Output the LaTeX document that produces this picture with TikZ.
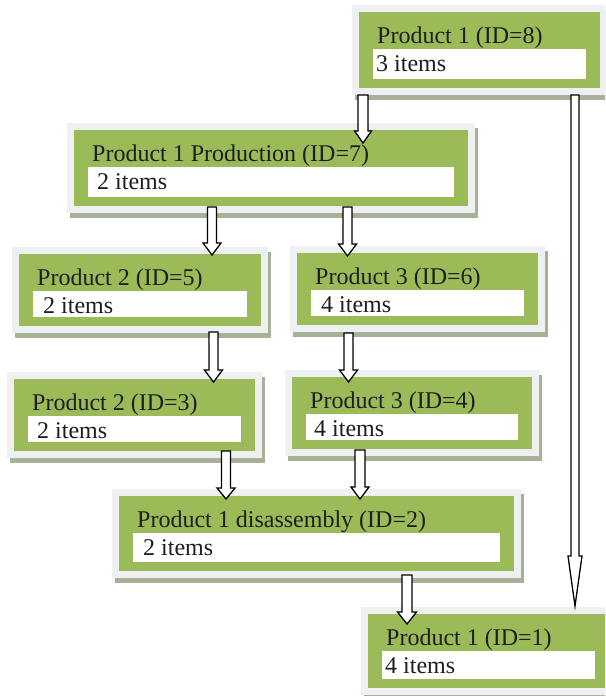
\documentclass[tikz,border=0pt]{standalone}
\usepackage{fontspec}
\setmainfont{Liberation Serif}
\usetikzlibrary{calc}
\definecolor{boxgreen}{HTML}{9BBB59}
\definecolor{framegray}{HTML}{EEF0F2}
\definecolor{shadowc}{HTML}{A7B198}
\definecolor{txt}{HTML}{1E1E1E}
\tikzset{
  framebox/.style={fill=framegray, inner sep=0pt, outer sep=0pt, anchor=north west},
  boxtext/.style={anchor=base west, inner sep=0pt, font=\fontsize{24}{28}\selectfont, text=txt},
  arrowbody/.style={draw=black, fill=white, line width=1.3pt, line join=miter},
}
% name, x1, y1, x2, y2
\newcommand\prodbox[5]{%
  \fill[shadowc] (#2+3,#3+5) rectangle (#4+3,#5+5);
  \node[framebox, minimum width=#4-#2, minimum height=#5-#3] (#1) at (#2,#3) {};
  \fill[boxgreen] ($(#1.north west)+(7,7)$) rectangle ($(#1.south east)+(-7,-7)$);
  \fill[white] ($(#1.north west)+(21,44)$) rectangle ($(#1.south east)+(-21,-16)$);
}
% name, title, items, items indent
\newcommand\prodtext[4]{%
  \node[boxtext] (#1t) at ($(#1.north west)+(25,38)$) {#2};
  \node[boxtext] (#1i) at ($(#1.north west)+(#4,66)$) {#3};
}
% x, src, dy1, dst, dy2, shaft half, head half, head length
\newcommand\blkarrow[8]{%
  \draw[arrowbody] let \p1=($(#1,0 |- #2.south)+(0,#3)$), \p2=($(#1,0 |- #4.north)+(0,#5)$) in
    (\x1-#6,\y1) -- (\x1-#6,\y2+#8) -- (\x1-#7,\y2+#8) -- (\x2,\y2) --
    (\x1+#7,\y2+#8) -- (\x1+#6,\y2+#8) -- (\x1+#6,\y1) -- cycle;
}
\begin{document}
\begin{tikzpicture}[x=1pt,y=-1pt]
\useasboundingbox (0,0) rectangle (605,696);
\clip (0,0) rectangle (605,696);
\prodbox{n8}{352}{5}{607}{95}
\prodbox{n7}{67}{123}{475}{213}
\prodbox{n5}{12}{247}{268}{333}
\prodbox{n6}{290}{246}{545}{332}
\prodbox{n3}{7}{372}{262}{458}
\prodbox{n4}{285}{370}{539}{456}
\prodbox{n2}{112}{489}{521}{578}
\prodbox{n1}{361}{607}{616}{695}
\blkarrow{363}{n8}{0}{n7}{20}{5pt}{8.5pt}{12pt}
\blkarrow{347.5}{n7}{-6}{n6}{10}{4.5pt}{9pt}{12pt}
\blkarrow{212}{n7}{-6}{n5}{8}{4.5pt}{9pt}{12pt}
\blkarrow{213.5}{n5}{-1}{n3}{10}{4.5pt}{9pt}{12pt}
\blkarrow{348.5}{n6}{1}{n4}{12}{4.5pt}{9pt}{12pt}
\blkarrow{226}{n3}{-7}{n2}{10}{4.5pt}{9pt}{11pt}
\blkarrow{360}{n4}{-6}{n2}{10}{5pt}{9pt}{12pt}
\blkarrow{407}{n2}{-3}{n1}{17}{5pt}{9.5pt}{12pt}
\blkarrow{575}{n8}{0}{n1}{-1}{4pt}{7pt}{50pt}
\prodtext{n8}{Product 1 (ID=8)}{3 items}{24}
\prodtext{n7}{Product 1 Production (ID=7)}{2 items}{30}
\prodtext{n5}{Product 2 (ID=5)}{2 items}{31}
\prodtext{n6}{Product 3 (ID=6)}{4 items}{31}
\prodtext{n3}{Product 2 (ID=3)}{2 items}{30}
\prodtext{n4}{Product 3 (ID=4)}{4 items}{29}
\prodtext{n2}{Product 1 disassembly (ID=2)}{2 items}{31}
\prodtext{n1}{Product 1 (ID=1)}{4 items}{24}
\end{tikzpicture}
\end{document}
